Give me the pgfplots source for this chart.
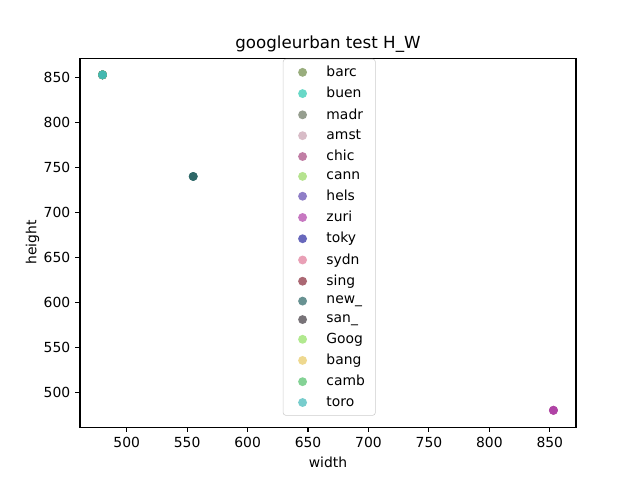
\documentclass[border=0pt]{standalone}
\usepackage{pgfplots}
\pgfplotsset{compat=1.18}
\usepackage{fontspec}
\setmainfont{DejaVu Sans}

\definecolor{cbarc}{HTML}{6E8B46}
\definecolor{cbuen}{HTML}{28C8B0}
\definecolor{cmadr}{HTML}{6A7560}
\definecolor{camst}{HTML}{C8A0B0}
\definecolor{cchic}{HTML}{A84880}
\definecolor{ccann}{HTML}{98D860}
\definecolor{chels}{HTML}{6048B0}
\definecolor{czuri}{HTML}{B040A8}
\definecolor{ctoky}{HTML}{2828A0}
\definecolor{csydn}{HTML}{E07898}
\definecolor{csing}{HTML}{882838}
\definecolor{cnew}{HTML}{286464}
\definecolor{csan}{HTML}{403840}
\definecolor{cgoog}{HTML}{90E060}
\definecolor{cbang}{HTML}{E8C860}
\definecolor{ccamb}{HTML}{50C068}
\definecolor{ctoro}{HTML}{40B8B8}

\pgfplotsset{dot/.style={only marks, mark=*, mark size=3.2pt,
  mark options={fill=#1, fill opacity=0.7, draw opacity=0}}}

\begin{document}
\begin{tikzpicture}
\begin{axis}[
  scale only axis, width=357.1pt, height=265.7pt,
  xmin=461.35, xmax=871.65, ymin=461.35, ymax=871.65,
  tick pos=left, tick align=outside,
  major tick length=3.5pt,
  every tick/.style={black, line width=0.8pt},
  axis line style={line width=0.8pt},
  xtick={500,550,...,850}, ytick={500,550,...,850},
  tick label style={font=\fontsize{10}{12}\selectfont},
  /pgf/number format/assume math mode=true,
  label style={font=\fontsize{10}{12}\selectfont},
  xlabel={width}, ylabel={height},
  ylabel style={yshift=-3.6pt},
  title={googleurban test H\_W},
  title style={font=\fontsize{12}{14}\selectfont, yshift=-5.6pt},
  legend cell align=left,
  legend image code/.code={%
    \path[draw=none, fill=none] (0pt,-3pt) rectangle (20pt,3pt);
    \draw[mark repeat=2, mark phase=2, #1] plot coordinates {(0pt,0pt) (10pt,0pt) (20pt,0pt)};},
  legend style={at={(0.409,0.998)}, anchor=north west,
    font=\fontsize{10}{12}\selectfont, draw=black!20, rounded corners=2pt,
    row sep=2.2pt, column sep=3.7pt, inner xsep=4pt, inner ysep=3pt,
    nodes={inner xsep=3.5pt}},
]
\addplot[dot=cbarc] coordinates {(480,853)};
\addlegendentry{barc}
\addplot[dot=cbuen] coordinates {(480,853)};
\addlegendentry{buen}
\addplot[dot=cmadr] coordinates {(480,853)};
\addlegendentry{madr}
\addplot[dot=camst] coordinates {(853,480)};
\addlegendentry{amst}
\addplot[dot=cchic] coordinates {(853,480)};
\addlegendentry{chic}
\addplot[dot=ccann] coordinates {(480,853)};
\addlegendentry{cann}
\addplot[dot=chels] coordinates {(480,853)};
\addlegendentry{hels}
\addplot[dot=czuri] coordinates {(853,480) (853,480)};
\addlegendentry{zuri}
\addplot[dot=ctoky] coordinates {(480,853)};
\addlegendentry{toky}
\addplot[dot=csydn] coordinates {(480,853)};
\addlegendentry{sydn}
\addplot[dot=csing] coordinates {(480,853)};
\addlegendentry{sing}
\addplot[dot=cnew] coordinates {(555,740) (555,740) (555,740)};
\addlegendentry{new\_}
\addplot[dot=csan] coordinates {(480,853)};
\addlegendentry{san\_}
\addplot[dot=cgoog] coordinates {(480,853)};
\addlegendentry{Goog}
\addplot[dot=cbang] coordinates {(480,853)};
\addlegendentry{bang}
\addplot[dot=ccamb] coordinates {(480,853)};
\addlegendentry{camb}
\addplot[dot=ctoro] coordinates {(480,853) (480,853)};
\addlegendentry{toro}
\end{axis}
\pgfresetboundingbox
\path[use as bounding box] ([shift={(-57.6pt,-38.2pt)}]current axis.south west)
  rectangle ([shift={(46.1pt,41.8pt)}]current axis.north east);
\end{tikzpicture}
\end{document}
